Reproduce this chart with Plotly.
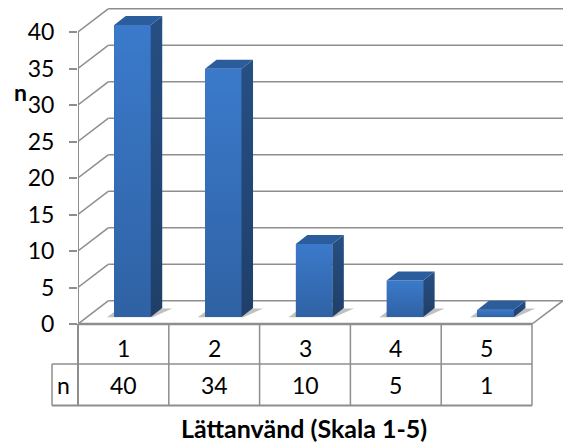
import plotly.graph_objects as go

categories = [1, 2, 3, 4, 5]
values = [40, 34, 10, 5, 1]
y_ticks = [0, 5, 10, 15, 20, 25, 30, 35, 40]
table_row_label = "n"
x_title = "Lättanvänd (Skala 1-5)"
y_title = "n"

W, H = 565, 445
L, R, T, B = 78, 563, 8, 324
PX_X = 90.8          # pixels per category
PX_Y = 7.3           # pixels per unit
X0 = 0.5
X_END = X0 + (R - L) / PX_X
Y_END = (B - T) / PX_Y
WALL_DX, WALL_DY = 30.5 / PX_X, 23.3 / PX_Y
BAR_DX, BAR_DY = 11.5 / PX_X, 9 / PX_Y
BAR_BASE = 7 / PX_Y
BAR_W = 36.5 / PX_X
BAR_SHIFT = 0.1
GRID = "#8E8E8E"
FONT = "Lato"
FS = 23


def px(x):
    return (x - L) / (R - L)


def py(y):
    return (B - y) / (B - T)


fig = go.Figure()
shapes = []


def dline(x0, y0, x1, y1, width=1.5):
    shapes.append(dict(type="line", xref="x", yref="y", x0=x0, y0=y0, x1=x1, y1=y1,
                       layer="below", line=dict(color=GRID, width=width)))


def pline(x0, y0, x1, y1, width=1.5):
    shapes.append(dict(type="line", xref="paper", yref="paper", x0=px(x0), y0=py(y0),
                       x1=px(x1), y1=py(y1), layer="above", line=dict(color=GRID, width=width)))


# walls and floor
for v in y_ticks:
    dline(X0 + WALL_DX, v + WALL_DY, X_END, v + WALL_DY)
    dline(X0, v, X0 + WALL_DX, v + WALL_DY)
dline(X0 + 5, 0, X_END, WALL_DY)

# floor shadows
for c in categories:
    left = c + BAR_SHIFT - BAR_W / 2
    right = left + BAR_W + BAR_DX
    path = (f"M {left - 0.08} {BAR_BASE * 0.95} L {right - BAR_DX + 0.02} {BAR_BASE * 0.95} "
            f"L {right + 0.11} {BAR_BASE + BAR_DY * 0.95} L {left + 0.05} {BAR_BASE + BAR_DY * 0.95} Z")
    shapes.append(dict(type="path", xref="x", yref="y", path=path, layer="below",
                       fillcolor="rgba(130,130,130,0.5)", line=dict(width=0)))

# bars, front faces
fig.add_trace(go.Bar(
    x=[c + BAR_SHIFT for c in categories], y=values, base=[BAR_BASE] * len(values),
    width=BAR_W, marker=dict(color="#3568AE", line=dict(width=0)), hoverinfo="skip",
))

# gradient, side and top faces
for c, v in zip(categories, values):
    x0 = c + BAR_SHIFT - BAR_W / 2
    x1 = x0 + BAR_W
    y0 = BAR_BASE
    y1 = BAR_BASE + v
    fig.add_trace(go.Scatter(
        x=[x0, x1, x1, x0, x0], y=[y0, y0, y1, y1, y0], mode="lines", fill="toself",
        line=dict(width=0), hoverinfo="skip",
        fillgradient=dict(type="vertical", colorscale=[[0, "#2F62A4"], [1, "#3B7ACB"]]),
    ))
    fig.add_trace(go.Scatter(
        x=[x1, x1 + BAR_DX, x1 + BAR_DX, x1, x1],
        y=[y0, y0 + BAR_DY, y1 + BAR_DY, y1, y0], mode="lines", fill="toself",
        line=dict(width=0), hoverinfo="skip",
        fillgradient=dict(type="vertical", colorscale=[[0, "#1F3F69"], [1, "#264F84"]]),
    ))
    fig.add_trace(go.Scatter(
        x=[x0, x1, x1 + BAR_DX, x0 + BAR_DX, x0],
        y=[y1, y1, y1 + BAR_DY, y1 + BAR_DY, y1], mode="lines", fill="toself",
        fillcolor="#2B5D9C", line=dict(width=0), hoverinfo="skip",
    ))

# left axis line
dline(X0, 0, X0, y_ticks[-1], width=2)

# data table
TBL_X = [L + i * (454 / len(categories)) for i in range(len(categories) + 1)]
ROW0, ROW1, ROW2 = 324, 364, 405.5
LBL_X = 52
pline(L, ROW0, TBL_X[-1], ROW0, 2.5)
pline(LBL_X, ROW1, TBL_X[-1], ROW1)
pline(LBL_X, ROW2, TBL_X[-1], ROW2, 2)
pline(LBL_X, ROW1, LBL_X, ROW2)
for i, x in enumerate(TBL_X):
    pline(x, ROW0, x, ROW2, 2 if i == 0 else 1.5)

annotations = []


def text(x, y, s, bold=False, size=FS):
    annotations.append(dict(xref="paper", yref="paper", x=px(x), y=py(y), text=f"<b>{s}</b>" if bold else str(s),
                            showarrow=False, xanchor="center", yanchor="middle",
                            font=dict(family=FONT, size=size, color="#000000")))


for i, (c, v) in enumerate(zip(categories, values)):
    mid = (TBL_X[i] + TBL_X[i + 1]) / 2
    text(mid, 347.5, c)
    text(mid, 385, v)
text(63, 385, table_row_label)
text(304, 428, x_title, bold=True, size=25)
text(20, 92, y_title, bold=True, size=23)

fig.update_layout(
    width=W, height=H, autosize=False, showlegend=False, bargap=0,
    margin=dict(l=L, r=W - R, t=T, b=H - B),
    paper_bgcolor="white", plot_bgcolor="white",
    shapes=shapes, annotations=annotations,
    xaxis=dict(range=[X0, X_END], visible=False, fixedrange=True),
    yaxis=dict(range=[0, Y_END], tickmode="array", tickvals=y_ticks, ticktext=[str(v) for v in y_ticks],
               showgrid=False, zeroline=False, showline=False, ticks="outside", ticklen=8, tickwidth=2,
               tickcolor=GRID, tickfont=dict(family=FONT, size=FS, color="#000000"),
               ticklabelstandoff=10, fixedrange=True),
)
fig.write_html("out.html", config={"displayModeBar": False},
               post_script="document.body.style.margin='0';document.documentElement.style.overflow='hidden';")
